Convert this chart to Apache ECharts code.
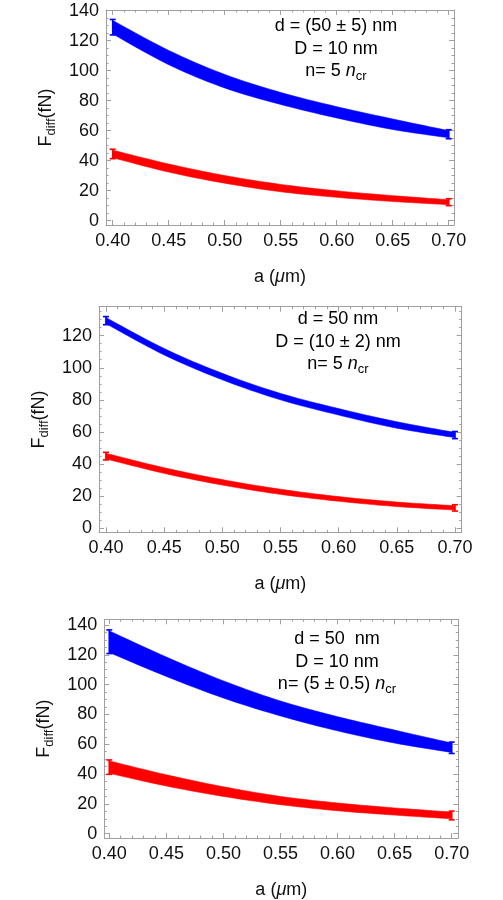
<!DOCTYPE html>
<html><head><meta charset="utf-8">
<script src="https://cdn.jsdelivr.net/npm/echarts@6/dist/echarts.min.js"></script>
<style>html,body{margin:0;padding:0;background:#fff}#c{width:503px;height:900px}</style>
</head><body><div id="c"></div>
<script>
// ---------- data ----------
const aValues = [0.40, 0.45, 0.50, 0.55, 0.60, 0.65, 0.70];
const xTickLabels = [0.40, 0.45, 0.50, 0.55, 0.60, 0.65, 0.70];
const xMinorTicks = [0.40,0.41,0.42,0.43,0.44,0.45,0.46,0.47,0.48,0.49,0.50,0.51,0.52,0.53,0.54,0.55,0.56,0.57,0.58,0.59,0.60,0.61,0.62,0.63,0.64,0.65,0.66,0.67,0.68,0.69,0.70];
const yTickLabelsA = [0, 20, 40, 60, 80, 100, 120, 140];
const yTickLabelsB = [0, 20, 40, 60, 80, 100, 120];
const yMinorTicksA = [0,5,10,15,20,25,30,35,40,45,50,55,60,65,70,75,80,85,90,95,100,105,110,115,120,125,130,135,140];
const yMinorTicksB = [0,5,10,15,20,25,30,35,40,45,50,55,60,65,70,75,80,85,90,95,100,105,110,115,120,125,130,135];

// panel 1: d = (50 ± 5) nm
const blueUpper1 = [133.5, 113.5, 97.5, 85.5, 76.0, 67.8, 60.0];
const blueLower1 = [124.5, 104.0, 88.5, 77.5, 68.5, 60.8, 55.3];
const redUpper1  = [47.0, 37.8, 30.1, 24.2, 19.9, 16.7, 14.0];
const redLower1  = [42.0, 32.4, 25.0, 19.3, 15.6, 12.8, 10.7];
// panel 2: D = (10 ± 2) nm
const blueUpper2 = [131.3, 112.0, 96.5, 84.0, 74.5, 66.3, 59.6];
const blueLower2 = [127.5, 108.0, 92.5, 80.0, 70.5, 62.3, 56.4];
const redUpper2  = [46.6, 37.6, 30.2, 24.2, 19.6, 16.2, 13.9];
const redLower2  = [43.1, 34.1, 26.8, 21.0, 16.7, 13.4, 11.2];
// panel 3: n = (5 ± 0.5) n_cr
const blueUpper3 = [136.0, 118.5, 102.5, 89.0, 78.5, 69.5, 60.8];
const blueLower3 = [121.5, 105.5, 91.0, 79.0, 69.0, 60.8, 54.5];
const redUpper3  = [48.8, 39.5, 31.5, 25.0, 20.6, 17.3, 14.5];
const redLower3  = [40.5, 32.0, 25.0, 19.5, 15.4, 12.5, 10.0];

const annot1 = ['d = (50 ± 5) nm', 'D = 10 nm', 'n= 5 '];
const annot2 = ['d = 50 nm', 'D = (10 ± 2) nm', 'n= 5 '];
const annot3 = ['d = 50  nm', 'D = 10 nm', 'n= (5 ± 0.5) '];

// ---------- layout ----------
const FONT = '"Liberation Sans", Arial, sans-serif';
const FRAME = '#a0a0a0';
const panels = [
  {left:106, top:10, width:348, height:215, xmin:0.3940, xmax:0.7047, ymin:-2.87, ymax:140.47,
   yMajor:yTickLabelsA, yMinor:yMinorTicksA, bu:blueUpper1, bl:blueLower1, ru:redUpper1, rl:redLower1,
   annot:annot1, ax:336, ay:27},
  {left:99, top:306.7, width:362.7, height:225.6, xmin:0.3940, xmax:0.7058, ymin:-2.68, ymax:138.1,
   yMajor:yTickLabelsB, yMinor:yMinorTicksB, bu:blueUpper2, bl:blueLower2, ru:redUpper2, rl:redLower2,
   annot:annot2, ax:338, ay:320},
  {left:104.3, top:619.3, width:354, height:219.7, xmin:0.3956, xmax:0.7058, ymin:-2.87, ymax:143.8,
   yMajor:yTickLabelsA, yMinor:yMinorTicksA, bu:blueUpper3, bl:blueLower3, ru:redUpper3, rl:redLower3,
   annot:annot3, ax:337, ay:640}
];

// Catmull-Rom smoothing of pixel points (rendering only; passes through every data point)
function spline(P, seg) {
  const out = [], n = P.length;
  for (let i = 0; i < n - 1; i++) {
    const p0 = P[Math.max(i - 1, 0)], p1 = P[i], p2 = P[i + 1], p3 = P[Math.min(i + 2, n - 1)];
    for (let s = 0; s < seg; s++) {
      const t = s / seg, t2 = t * t, t3 = t2 * t;
      const f = (a, b, c, d) => 0.5 * ((2 * b) + (-a + c) * t + (2 * a - 5 * b + 4 * c - d) * t2 + (-a + 3 * b - 3 * c + d) * t3);
      out.push([f(p0[0], p1[0], p2[0], p3[0]), f(p0[1], p1[1], p2[1], p3[1])]);
    }
  }
  out.push(P[n - 1]);
  return out;
}

const grid = [], xAxis = [], yAxis = [], series = [], graphic = [];
const tickStyle = {color: FRAME, width: 1};

panels.forEach((p, gi) => {
  grid.push({left: p.left, top: p.top, width: p.width, height: p.height, containLabel: false});
  const xBase = xAxis.length, yBase = yAxis.length;
  const xCommon = {type:'value', gridIndex: gi, min: p.xmin, max: p.xmax, splitLine:{show:false}};
  xAxis.push(Object.assign({}, xCommon, {
    position:'bottom',
    axisLine:{show:true, onZero:false, lineStyle:{color:FRAME, width:1}},
    axisTick:{show:true, inside:true, length:5, customValues: xTickLabels, lineStyle: tickStyle},
    axisLabel:{show:true, customValues: xTickLabels, formatter: v => v.toFixed(2), fontSize:18, fontFamily:FONT, color:'#111', margin:7},
    name:'{t|a (}{i|μ}{t|m)}', nameLocation:'middle', nameGap:43,
    nameTextStyle:{rich:{t:{fontSize:18, fontFamily:FONT, color:'#111'}, i:{fontSize:18, fontFamily:FONT, fontStyle:'italic', color:'#111'}}}
  }));
  xAxis.push(Object.assign({}, xCommon, {position:'bottom',
    axisLine:{show:false, onZero:false}, axisTick:{show:true, inside:true, length:2.5, customValues: xMinorTicks, lineStyle: tickStyle}, axisLabel:{show:false}}));
  xAxis.push(Object.assign({}, xCommon, {position:'top',
    axisLine:{show:true, onZero:false, lineStyle:{color:FRAME, width:1}}, axisTick:{show:true, inside:true, length:5, customValues: xTickLabels, lineStyle: tickStyle}, axisLabel:{show:false}}));
  xAxis.push(Object.assign({}, xCommon, {position:'top',
    axisLine:{show:false, onZero:false}, axisTick:{show:true, inside:true, length:2.5, customValues: xMinorTicks, lineStyle: tickStyle}, axisLabel:{show:false}}));

  const yCommon = {type:'value', gridIndex: gi, min: p.ymin, max: p.ymax, splitLine:{show:false}};
  yAxis.push(Object.assign({}, yCommon, {position:'left',
    axisLine:{show:true, onZero:false, lineStyle:{color:FRAME, width:1}},
    axisTick:{show:true, inside:true, length:5, customValues: p.yMajor, lineStyle: tickStyle},
    axisLabel:{show:true, customValues: p.yMajor, fontSize:18, fontFamily:FONT, color:'#111', margin:7},
    name:'{t|F}{s|diff}{t|(fN)}', nameLocation:'middle', nameGap:48, nameRotate:90,
    nameTextStyle:{rich:{
      t:{fontSize:18, fontFamily:FONT, color:'#111', verticalAlign:'bottom', padding:[0,0,3,0]},
      s:{fontSize:13, fontFamily:FONT, color:'#111', verticalAlign:'bottom'}}}
  }));
  yAxis.push(Object.assign({}, yCommon, {position:'left',
    axisLine:{show:false, onZero:false}, axisTick:{show:true, inside:true, length:2.5, customValues: p.yMinor, lineStyle: tickStyle}, axisLabel:{show:false}}));
  yAxis.push(Object.assign({}, yCommon, {position:'right',
    axisLine:{show:true, onZero:false, lineStyle:{color:FRAME, width:1}}, axisTick:{show:true, inside:true, length:5, customValues: p.yMajor, lineStyle: tickStyle}, axisLabel:{show:false}}));
  yAxis.push(Object.assign({}, yCommon, {position:'right',
    axisLine:{show:false, onZero:false}, axisTick:{show:true, inside:true, length:2.5, customValues: p.yMinor, lineStyle: tickStyle}, axisLabel:{show:false}}));

  const bands = [[p.bu, p.bl, '#0000ff', 'blue'], [p.ru, p.rl, '#ff0000', 'red']];
  bands.forEach(([up, lo, col, nm]) => {
    const pts = aValues.map((a, k) => [a, lo[k], up[k]]);
    const last = pts.length - 1;
    series.push({type:'custom', name: nm + ' band ' + gi, xAxisIndex:xBase, yAxisIndex:yBase, z:3, silent:true,
      data: pts, clip:false,
      renderItem: (params, api) => {
        if (params.dataIndex !== 0) return null;
        const upPx = pts.map(q => api.coord([q[0], q[2]]));
        const loPx = pts.map(q => api.coord([q[0], q[1]]));
        const poly = spline(upPx, 10).concat(spline(loPx, 10).reverse());
        return {type:'polygon', shape:{points: poly}, style:{fill: col, stroke: col, lineWidth: 0.6}};
      }});
    series.push({type:'custom', xAxisIndex:xBase, yAxisIndex:yBase, z:4, silent:true,
      data: [pts[0], pts[last]],
      renderItem: (params, api) => {
        const top = api.coord([api.value(0), api.value(2)]);
        const bot = api.coord([api.value(0), api.value(1)]);
        const w = 3;
        const st = {stroke: col, lineWidth: 1.6};
        return {type:'group', children:[
          {type:'line', shape:{x1:top[0], y1:top[1]-1, x2:bot[0], y2:bot[1]+1}, style:st},
          {type:'line', shape:{x1:top[0]-w, y1:top[1]-1, x2:top[0]+w, y2:top[1]-1}, style:st},
          {type:'line', shape:{x1:bot[0]-w, y1:bot[1]+1, x2:bot[0]+w, y2:bot[1]+1}, style:st}
        ]};
      }});
  });

  const rich = {
    t:{fontSize:18, fontFamily:FONT, color:'#111', verticalAlign:'bottom', padding:[0,0,3,0], lineHeight:22},
    i:{fontSize:18, fontFamily:FONT, fontStyle:'italic', color:'#111', verticalAlign:'bottom', padding:[0,0,3,0], lineHeight:22},
    s:{fontSize:13, fontFamily:FONT, color:'#111', verticalAlign:'bottom', lineHeight:22}
  };
  const lines = [
    '{t|' + p.annot[0] + '}',
    '{t|' + p.annot[1] + '}',
    '{t|' + p.annot[2] + '}{i|n}{s|cr}'
  ];
  lines.forEach((ln, li) => {
    graphic.push({type:'text', x: p.ax, y: p.ay + li * 22.7, z: 10,
      style:{text: ln, rich, align:'center', verticalAlign:'middle', font: '18px ' + FONT}});
  });
});

const chart = echarts.init(document.getElementById('c'), null, {renderer:'canvas'});
chart.setOption({animation:false, backgroundColor:'#fff', grid, xAxis, yAxis, series, graphic});
</script>
</body></html>
